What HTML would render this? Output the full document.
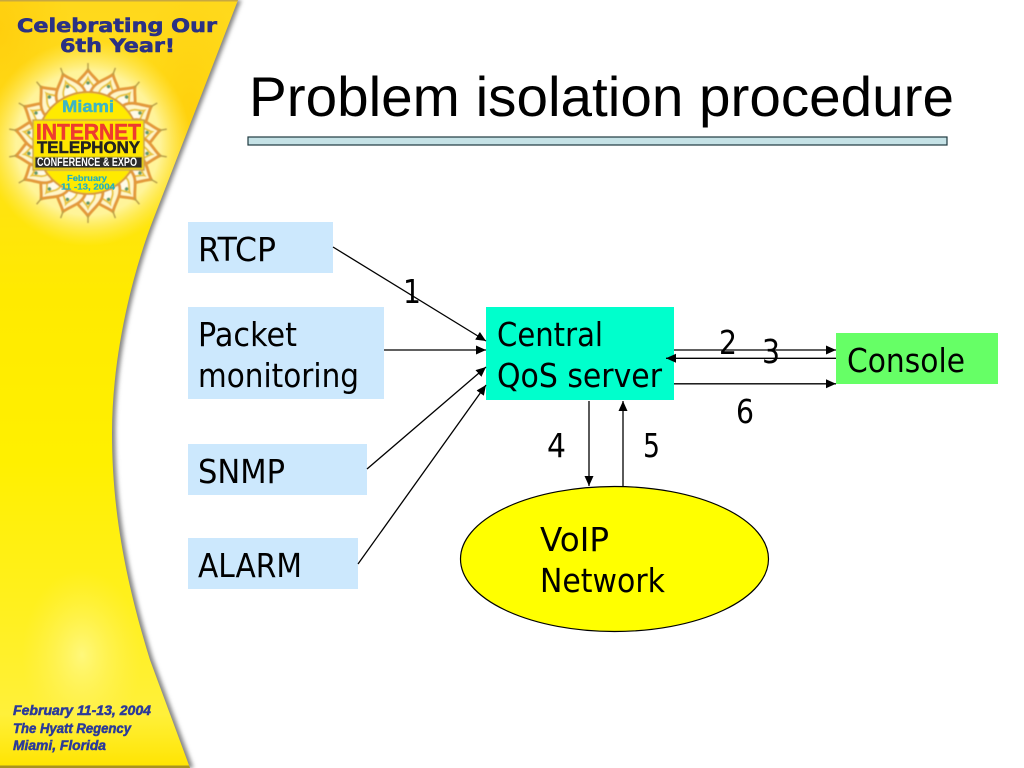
<!DOCTYPE html>
<html>
<head>
<meta charset="utf-8">
<style>
html,body{margin:0;padding:0;background:#fff;width:1024px;height:768px;overflow:hidden}
svg{display:block}
text{font-family:"Liberation Sans",sans-serif}
.t{font-family:"DejaVu Sans",sans-serif;font-size:32.500px;fill:#000}
.l{stroke:#000;stroke-width:1.3;fill:none;marker-end:url(#ah)}
</style>
</head>
<body>
<svg width="1024" height="768" viewBox="0 0 1024 768" xmlns="http://www.w3.org/2000/svg">
<defs>
<marker id="ah" markerUnits="userSpaceOnUse" markerWidth="11" markerHeight="10" refX="10" refY="5" orient="auto">
<path d="M0 0.500L10 5L0 9.500Z" fill="#000"/>
</marker>
<linearGradient id="side" x1="0" y1="0" x2="0" y2="1">
<stop offset="0" stop-color="#ffd81c"/>
<stop offset=".2" stop-color="#ffe018"/>
<stop offset=".38" stop-color="#ffea00"/>
<stop offset=".6" stop-color="#fff000"/>
<stop offset=".8" stop-color="#fff020"/>
<stop offset=".93" stop-color="#fff03a"/>
<stop offset="1" stop-color="#ffe400"/>
</linearGradient>
<radialGradient id="glow" cx=".5" cy=".5" r=".5">
<stop offset="0" stop-color="#fff9c4" stop-opacity="1"/>
<stop offset=".7" stop-color="#fff6a8" stop-opacity=".9"/>
<stop offset="1" stop-color="#ffec70" stop-opacity="0"/>
</radialGradient>
<radialGradient id="glow2" cx=".5" cy=".5" r=".5">
<stop offset="0" stop-color="#fffa90" stop-opacity=".8"/>
<stop offset="1" stop-color="#fff060" stop-opacity="0"/>
</radialGradient>
<radialGradient id="org" cx=".5" cy=".5" r=".5">
<stop offset="0" stop-color="#ffc400" stop-opacity=".5"/>
<stop offset="1" stop-color="#ffc800" stop-opacity="0"/>
</radialGradient>
<filter id="blur"><feGaussianBlur stdDeviation="2"/></filter>
<filter id="soft"><feGaussianBlur stdDeviation=".45"/></filter>
<clipPath id="sc"><path d="M0 0H238L153 220C130 280 112 360 112 433C112 500 122 570 150 660L190 768H0Z"/></clipPath>
<g id="p">
<path d="M-15 -49C-15 -60 -5 -65 0 -73C5 -65 15 -60 15 -49Z" fill="#fff6c8" stroke="#e39a3a" stroke-width="3"/>
<path d="M-7 -51C-7 -58 -2 -60 0 -65C2 -60 7 -58 7 -51Z" fill="#fffbe8" stroke="#e9c53a" stroke-width="2"/>
<path d="M0 -72V-80" stroke="#b9a24a" stroke-width="1.500"/>
<circle cy="-60" r="1.800" fill="#5f9a6a"/>
</g>
</defs>

<!-- Sidebar -->
<path d="M0 0H240L155 220C132 280 114 360 114 433C114 500 124 570 152 660L192 768H0Z" fill="#858585" filter="url(#blur)" transform="translate(1.500,0)"/>
<g clip-path="url(#sc)">
<rect width="240" height="768" fill="url(#side)"/>
<ellipse cx="0" cy="30" rx="70" ry="120" fill="url(#org)"/>
<ellipse cx="190" cy="110" rx="60" ry="120" fill="url(#org)"/>
<ellipse cx="88" cy="143" rx="103" ry="103" fill="url(#glow)"/>
<ellipse cx="82" cy="655" rx="60" ry="85" fill="url(#glow2)"/>
<rect y="0" width="240" height="1.500" fill="#c8a840"/>
<rect y="765.500" width="240" height="2.500" fill="#a89420"/>
</g>

<!-- Sidebar header -->
<g font-weight="bold" fill="#2b3184" stroke="#2b3184" stroke-width=".6" font-size="18.500">
<text x="17" y="32" style="font-family:'DejaVu Sans',sans-serif" textLength="200" lengthAdjust="spacingAndGlyphs">Celebrating Our</text>
<text x="60" y="52" style="font-family:'DejaVu Sans',sans-serif" textLength="115" lengthAdjust="spacingAndGlyphs">6th Year!</text>
</g>

<!-- Emblem -->
<g transform="translate(88,143)" filter="url(#soft)">
<use href="#p" transform="rotate(0)"/><use href="#p" transform="rotate(20)"/><use href="#p" transform="rotate(40)"/>
<use href="#p" transform="rotate(60)"/><use href="#p" transform="rotate(80)"/><use href="#p" transform="rotate(100)"/>
<use href="#p" transform="rotate(120)"/><use href="#p" transform="rotate(140)"/><use href="#p" transform="rotate(160)"/>
<use href="#p" transform="rotate(180)"/><use href="#p" transform="rotate(200)"/><use href="#p" transform="rotate(220)"/>
<use href="#p" transform="rotate(240)"/><use href="#p" transform="rotate(260)"/><use href="#p" transform="rotate(280)"/>
<use href="#p" transform="rotate(300)"/><use href="#p" transform="rotate(320)"/><use href="#p" transform="rotate(340)"/>
<circle r="51" fill="#ffea00" stroke="#d99a3a" stroke-width="2"/>
<rect x="-55" y="-23" width="111" height="50" fill="#ffe600" stroke="#c9a24a" stroke-width="1.500"/>
<rect x="-53" y="14" width="107" height="11" fill="#2a2a2a"/>
</g>
<text x="62" y="112" font-size="17" font-weight="bold" fill="#3db5c4" stroke="#3db5c4" stroke-width=".4" textLength="52" lengthAdjust="spacingAndGlyphs">Miami</text>
<text x="36" y="139.500" font-size="22" font-weight="bold" fill="#ee3b2f" stroke="#ee3b2f" stroke-width=".5" textLength="105" lengthAdjust="spacingAndGlyphs">INTERNET</text>
<text x="37" y="153" font-size="17" font-weight="bold" fill="#222" stroke="#222" stroke-width=".5" textLength="103" lengthAdjust="spacingAndGlyphs">TELEPHONY</text>
<text x="37" y="166" font-size="11.500" font-weight="bold" fill="#fff" textLength="100" lengthAdjust="spacingAndGlyphs">CONFERENCE &amp; EXPO</text>
<text x="67" y="181" font-size="8.500" font-weight="bold" fill="#22b0c0" stroke="#22b0c0" stroke-width=".2" textLength="40" lengthAdjust="spacingAndGlyphs">February</text>
<text x="61" y="189.500" font-size="8.500" font-weight="bold" fill="#22b0c0" stroke="#22b0c0" stroke-width=".2" textLength="54" lengthAdjust="spacingAndGlyphs">11 -13, 2004</text>

<!-- Sidebar footer -->
<g font-size="13.500" font-weight="bold" font-style="italic" fill="#2b3a9a" stroke="#2b3a9a" stroke-width=".5">
<text x="13" y="715" textLength="138" lengthAdjust="spacingAndGlyphs">February 11-13, 2004</text>
<text x="13" y="733" textLength="118" lengthAdjust="spacingAndGlyphs">The Hyatt Regency</text>
<text x="13" y="750" textLength="93" lengthAdjust="spacingAndGlyphs">Miami, Florida</text>
</g>

<!-- Title -->
<text x="249" y="116" font-size="56" fill="#000" textLength="705" lengthAdjust="spacingAndGlyphs">Problem isolation procedure</text>
<rect x="248" y="137" width="699" height="8" fill="#c5e2e6" stroke="#1f3a3f" stroke-width="1.200"/>

<!-- Boxes -->
<rect x="188" y="222" width="145" height="51" fill="#cce8fd"/>
<rect x="188" y="307" width="196" height="92" fill="#cce8fd"/>
<rect x="188" y="444" width="179" height="51" fill="#cce8fd"/>
<rect x="188" y="538" width="170" height="51" fill="#cce8fd"/>
<rect x="486" y="307" width="188" height="93" fill="#00ffcc"/>
<rect x="836" y="333" width="162" height="51" fill="#66ff66"/>
<ellipse cx="614.500" cy="559" rx="154" ry="72.500" fill="#ffff00" stroke="#000" stroke-width="1.200"/>

<!-- Connectors -->
<path class="l" d="M333 247L486 341"/>
<path class="l" d="M384 350H486"/>
<path class="l" d="M367 469L486 367"/>
<path class="l" d="M358 564L486 385"/>
<path class="l" d="M674 350H836"/>
<path class="l" d="M836 358.300H666"/>
<path class="l" d="M674 383.800H836"/>
<path class="l" d="M589 401V486"/>
<path class="l" d="M623 486V401"/>

<!-- Labels -->
<text class="t" x="198" y="261" textLength="78" lengthAdjust="spacingAndGlyphs">RTCP</text>
<text class="t" x="198" y="346" textLength="99" lengthAdjust="spacingAndGlyphs">Packet</text>
<text class="t" x="198" y="387" textLength="161" lengthAdjust="spacingAndGlyphs">monitoring</text>
<text class="t" x="198" y="483" textLength="87" lengthAdjust="spacingAndGlyphs">SNMP</text>
<text class="t" x="198" y="577" textLength="104" lengthAdjust="spacingAndGlyphs">ALARM</text>
<text class="t" x="497" y="346" textLength="106" lengthAdjust="spacingAndGlyphs">Central</text>
<text class="t" x="497" y="387" textLength="165" lengthAdjust="spacingAndGlyphs">QoS server</text>
<text class="t" x="847" y="372" textLength="118" lengthAdjust="spacingAndGlyphs">Console</text>
<text class="t" x="540" y="551" textLength="69" lengthAdjust="spacingAndGlyphs">VoIP</text>
<text class="t" x="540" y="592" textLength="125" lengthAdjust="spacingAndGlyphs">Network</text>
<text class="t" x="403" y="303" textLength="18" lengthAdjust="spacingAndGlyphs">1</text>
<text class="t" x="719" y="354" textLength="18" lengthAdjust="spacingAndGlyphs">2</text>
<text class="t" x="762" y="363" textLength="18" lengthAdjust="spacingAndGlyphs">3</text>
<text class="t" x="547" y="457" textLength="19" lengthAdjust="spacingAndGlyphs">4</text>
<text class="t" x="643" y="457" textLength="17" lengthAdjust="spacingAndGlyphs">5</text>
<text class="t" x="736" y="423" textLength="18" lengthAdjust="spacingAndGlyphs">6</text>
</svg>
</body>
</html>
